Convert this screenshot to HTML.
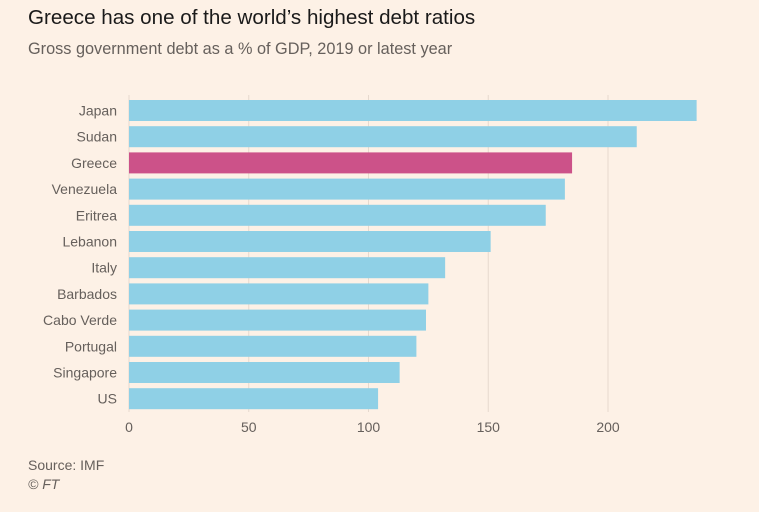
<!DOCTYPE html>
<html><head><meta charset="utf-8"><style>
body{margin:0;background:#fdf1e6;}
svg{display:block;font-family:"Liberation Sans",sans-serif;}
</style></head><body>
<svg id="c" width="759" height="512">
<rect width="759" height="512" fill="#fdf1e6"/>
<text x="28" y="24" font-size="20.6" fill="#1a1a1a">Greece has one of the world’s highest debt ratios</text>
<text x="28" y="54" font-size="16.3" fill="#66605c">Gross government debt as a % of GDP, 2019 or latest year</text>
<g id="grid"></g><g id="bars"></g><g id="ylab"></g><g id="xlab"></g>
<text x="28" y="470" font-size="14" fill="#66605c">Source: IMF</text>
<text x="28" y="489" font-size="14" font-style="italic" fill="#66605c">© FT</text>
</svg>
<script>
const categories=["Japan","Sudan","Greece","Venezuela","Eritrea","Lebanon","Italy","Barbados","Cabo Verde","Portugal","Singapore","US"];
const values=[237,212,185,182,174,151,132,125,124,120,113,104];
const ticks=[0,50,100,150,200];
const highlight="Greece";
const NS="http://www.w3.org/2000/svg";
const x0=129,k=2.395,y0=100,pitch=26.2,bh=21;
const sx=v=>x0+v*k, sy=i=>y0+i*pitch;
function el(t,a,p){const e=document.createElementNS(NS,t);for(const n in a)e.setAttribute(n,a[n]);document.getElementById(p).appendChild(e);return e;}
ticks.forEach(t=>{
 const l=el('line',{x1:sx(t),x2:sx(t),y1:95,y2:412,stroke:'#e6d9ce','stroke-width':1},'grid');
 
 
 const tx=el('text',{x:sx(t),y:432,'text-anchor':'middle','font-size':14,fill:'#66605c'},'xlab');
 tx.textContent=t;
 
 
});
categories.forEach((c,i)=>{
 const r=el('rect',{x:sx(0),y:sy(i),width:sx(values[i])-sx(0),height:bh,fill:c===highlight?'#cc5289':'#8fd0e6'},'bars');
 
 
 const t=el('text',{x:117,y:sy(i)+bh/2+5,'text-anchor':'end','font-size':14,fill:'#66605c'},'ylab');
 t.textContent=c;
 
 
});
</script>
</body></html>
